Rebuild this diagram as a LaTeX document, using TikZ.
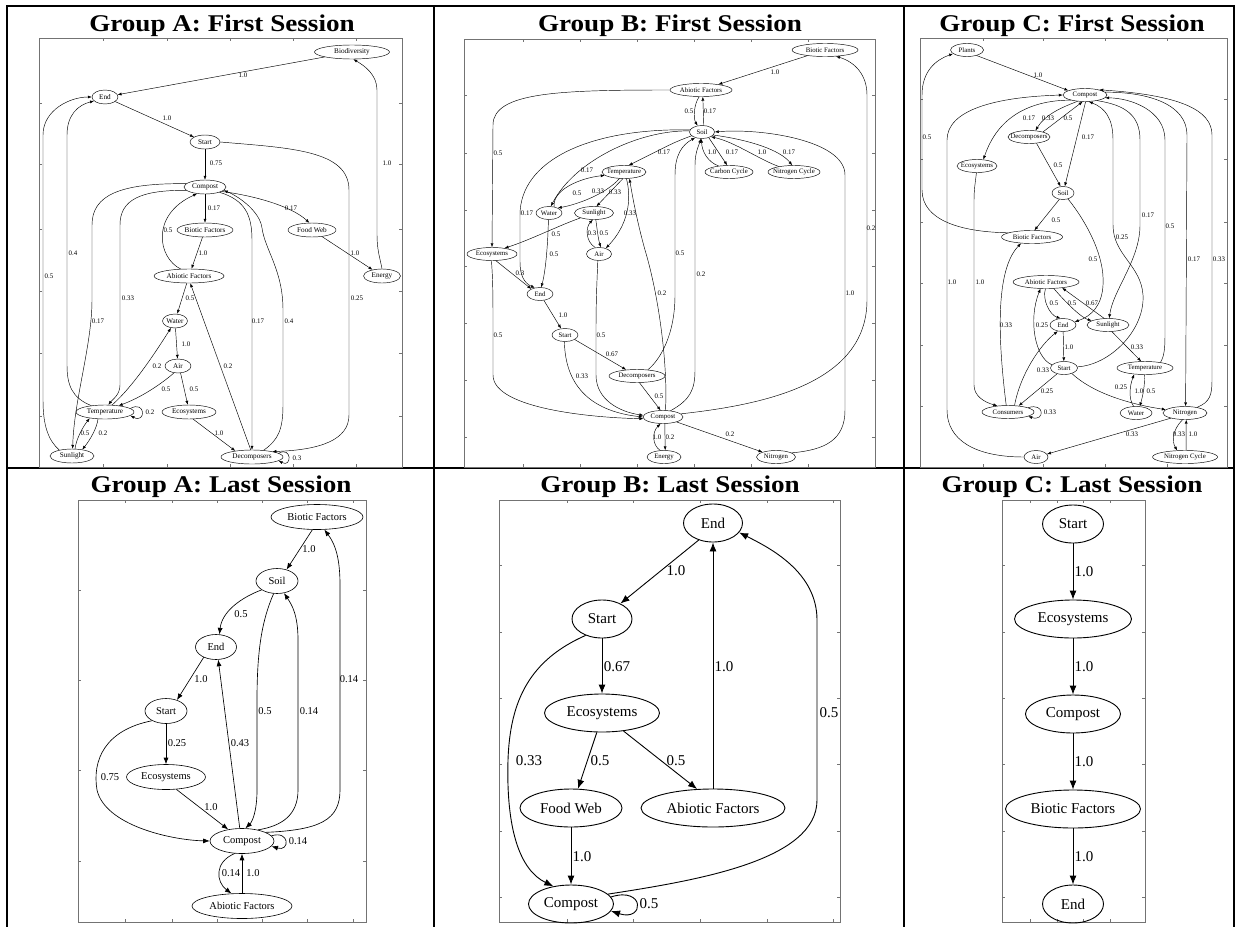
\documentclass[tikz,border=0pt]{standalone}
\usepackage{fontspec}
\setmainfont{Liberation Serif}
\usepackage{graphicx}
\usetikzlibrary{arrows.meta,shapes.geometric}
\tikzset{
  tline/.style={line width=2pt, line cap=rect},
  ttl/.style={anchor=base, inner sep=0pt, font=\fontsize{24}{28}\selectfont\bfseries},
  frm/.style={draw=black!55, line width=0.8pt},
  nA/.style={ellipse, draw, line width=0.45pt, inner xsep=-15pt, inner ysep=-6pt, minimum height=14pt, font=\fontsize{7.2}{8}\selectfont},
  nB/.style={nA, minimum height=13pt, font=\fontsize{6.8}{7.5}\selectfont},
  l1/.style={inner sep=0pt, font=\fontsize{6.9}{7.5}\selectfont},
  e1/.style={line width=0.45pt, -{Latex[length=4pt,width=3pt]}},
  n2/.style={ellipse, draw, line width=0.6pt, inner xsep=-25pt, inner ysep=-10pt, minimum height=25pt, font=\fontsize{10.5}{12}\selectfont},
  l2/.style={inner sep=0pt, font=\fontsize{10.5}{12}\selectfont},
  e2/.style={line width=0.65pt, -{Latex[length=6.5pt,width=5pt]}},
  n3/.style={ellipse, draw, line width=0.9pt, inner xsep=-35pt, inner ysep=-14pt, minimum height=38pt, font=\fontsize{15}{17}\selectfont},
  l3/.style={inner sep=0pt, font=\fontsize{15}{17}\selectfont},
  e3/.style={line width=0.9pt, -{Latex[length=9pt,width=7pt]}},
}
\newcommand\axbox[6]{%
  \draw[frm] (#1,#2) rectangle (#3,#4);
  \foreach \tk in {#5} {\draw[frm] (\tk,#2) -- ++(0,3); \draw[frm] (\tk,#4) -- ++(0,-3);}
  \foreach \tk in {#6} {\draw[frm] (#1,\tk) -- ++(3,0); \draw[frm] (#3,\tk) -- ++(-3,0);}
}
\begin{document}
\begin{tikzpicture}[x=1pt,y=-1pt]
\useasboundingbox (0,0) rectangle (1236,926);
\fill[white] (0,0) rectangle (1236,926);

% ---------- table ----------
\draw[tline] (7,6) -- (1234,6);
\draw[tline] (7,6) -- (7,926);
\draw[tline] (434,6) -- (434,926);
\draw[tline] (904,6) -- (904,926);
\draw[tline] (1234,6) -- (1234,926);
\draw[tline] (7,468) -- (1234,468);

\node[ttl] (T1) at (222,31) {\scalebox{1.13}[1]{Group A: First Session}};
\node[ttl] (T2) at (670,31) {\scalebox{1.13}[1]{Group B: First Session}};
\node[ttl] (T3) at (1072,31) {\scalebox{1.13}[1]{Group C: First Session}};
\node[ttl] (T4) at (221,492) {\scalebox{1.13}[1]{Group A: Last Session}};
\node[ttl] (T5) at (670,492) {\scalebox{1.13}[1]{Group B: Last Session}};
\node[ttl] (T6) at (1072,492) {\scalebox{1.13}[1]{Group C: Last Session}};

% ---------- frames ----------
\axbox{39}{38}{402}{467}{103,167,230,293,356}{103,164,229,291,353,416}
\axbox{464}{39}{875}{467}{523,580,637,694,751,808}{95,153,210,266,323,380,437}
\axbox{920}{38}{1227}{467}{983,1043,1105,1167}{99,159,222,283,345,406}
\axbox{78}{500}{366}{922}{125,172,217,262,307,353}{590,680,770,861}
\axbox{499}{500}{840}{922}{567,633,700,767,833}{565,632,698,764,831,897}
\axbox{1002}{500}{1145}{922}{1030,1057,1083,1110}{565,632,698,764,831,897}

% =============== Group A: First Session ===============
\node[nA, minimum width=75pt] (ABio) at (352,52) {Biodiversity};
\node[nA, minimum width=26pt] (AEnd) at (105,97) {End};
\node[nA, minimum width=30pt] (AStart) at (205,142) {Start};
\node[nA, minimum width=42pt] (ACompost) at (205,187) {Compost};
\node[nA, minimum width=56pt] (ABiotic) at (205,230) {Biotic Factors};
\node[nA, minimum width=48pt] (AFood) at (312,230) {Food Web};
\node[nA, minimum width=70pt] (AAbiotic) at (189,276) {Abiotic Factors};
\node[nA, minimum width=37pt] (AEnergy) at (382,276) {Energy};
\node[nA, minimum width=25pt] (AWater) at (175,321) {Water};
\node[nA, minimum width=26pt] (AAir) at (178,366) {Air};
\node[nA, minimum width=58pt] (ATemp) at (105,412) {Temperature};
\node[nA, minimum width=54pt] (AEco) at (189,412) {Ecosystems};
\node[nA, minimum width=44pt] (ASun) at (72,456) {Sunlight};
\node[nA, minimum width=62pt] (ADec) at (252,457) {Decomposers};

\draw[e1] (ABio) -- (AEnd);
\node[l1] (AL1) at (243,75) {1.0};
\draw[e1] (AEnd) -- (AStart);
\node[l1] (AL2) at (167,118) {1.0};
\draw[e1] (AStart) -- (ACompost);
\node[l1] (AL3) at (216,163) {0.75};
\draw[e1] (AStart.east) .. controls (290,148) and (349,150) .. (349,190) -- (349,415) .. controls (349,440) and (320,450) .. (ADec.15);
\node[l1] (AL4) at (357,298) {0.25};
\draw[e1] (AEnergy.north) .. controls (380,258) and (377,250) .. (377,235) -- (377,90) .. controls (377,75) and (365,66) .. (ABio.-80);
\node[l1] (AL5) at (387,163) {1.0};
\draw[e1] (ACompost) -- (ABiotic);
\node[l1] (AL6) at (214,208) {0.17};
\draw[e1] (ACompost.-15) .. controls (250,195) and (290,205) .. (AFood.110);
\node[l1] (AL7) at (291,208) {0.17};
\draw[e1] (AFood) -- (AEnergy);
\node[l1] (AL8) at (355,253) {1.0};
\draw[e1] (ABiotic) -- (AAbiotic);
\node[l1] (AL9) at (203,253) {1.0};
\draw[e1] (AAbiotic.140) .. controls (158,258) and (150,215) .. (ACompost.-140);
\node[l1] (AL10) at (168,230) {0.5};
\draw[e1] (AAbiotic) -- (AWater);
\node[l1] (AL11) at (190,298) {0.5};
\draw[e1] (AWater) -- (AAir);
\node[l1] (AL12) at (186,344) {1.0};
\draw[e1] (AAir.-120) .. controls (160,385) and (140,398) .. (ATemp.25);
\node[l1] (AL13) at (166,389) {0.5};
\draw[e1] (AAir.-70) -- (AEco.100);
\node[l1] (AL14) at (194,389) {0.5};
\draw[e1] (ATemp.45) .. controls (135,385) and (160,345) .. (AWater.-120);
\node[l1] (AL15) at (157,366) {0.2};
\draw[e1] (ATemp.8) .. controls (146,400) and (146,424) .. (ATemp.-8);
\node[l1] (AL16) at (150,412) {0.2};
\draw[e1] (ATemp.-135) .. controls (97,428) and (90,440) .. (ASun.32);
\draw[e1] (ASun.67) .. controls (76,440) and (82,428) .. (ATemp.-158);
\node[l1] (AL17) at (85,433) {0.5};
\node[l1] (AL18) at (103,433) {0.2};
\draw[e1] (AEco.-60) -- (ADec.160);
\node[l1] (AL19) at (219,433) {1.0};
\draw[e1] (ADec.100) -- (AAbiotic.-80);
\node[l1] (AL20) at (228,366) {0.2};
\draw[e1] (ADec.8) .. controls (292,446) and (292,468) .. (ADec.-8);
\node[l1] (AL21) at (297,458) {0.3};
\draw[e1] (ACompost.-20) .. controls (245,200) and (252,215) .. (252,240) -- (ADec.north);
\node[l1] (AL22) at (258,321) {0.17};
\draw[e1] (ADec.30) .. controls (278,440) and (283,430) .. (283,405) -- (283,310) .. controls (283,270) and (265,250) .. (262,228) .. controls (260,212) and (240,197) .. (ACompost.-10);
\node[l1] (AL23) at (289,321) {0.4};
\draw[e1] (ACompost.-170) .. controls (140,190) and (120,200) .. (120,225) -- (120,385) .. controls (120,395) and (112,400) .. (ATemp.65);
\node[l1] (AL24) at (128,298) {0.33};
\draw[e1] (ACompost.170) .. controls (120,183) and (92,195) .. (92,225) -- (92,300) .. controls (92,345) and (74,400) .. (ASun.85);
\node[l1] (AL25) at (98,321) {0.17};
\draw[e1] (ATemp.155) .. controls (72,398) and (67,385) .. (67,365) -- (67,135) .. controls (67,115) and (78,105) .. (AEnd.-160);
\node[l1] (AL26) at (73,253) {0.4};
\draw[e1] (ASun.155) .. controls (48,440) and (43,425) .. (43,400) -- (43,135) .. controls (43,110) and (70,97) .. (AEnd.west);
\node[l1] (AL27) at (49,276) {0.5};

% =============== Group B: First Session ===============
\node[nB, minimum width=66pt] (BBio) at (825,50) {Biotic Factors};
\node[nB, minimum width=62pt] (BAbi) at (701,90) {Abiotic Factors};
\node[nB, minimum width=25pt] (BSoil) at (702,132) {Soil};
\node[nB, minimum width=48pt] (BCarb) at (729,172) {Carbon Cycle};
\node[nB, minimum width=52pt] (BNCyc) at (794,172) {Nitrogen Cycle};
\node[nB, minimum width=44pt] (BTemp) at (624,172) {Temperature};
\node[nB, minimum width=26pt] (BWater) at (549,213) {Water};
\node[nB, minimum width=39pt] (BSun) at (594,213) {Sunlight};
\node[nB, minimum width=50pt] (BEco) at (492,254) {Ecosystems};
\node[nB, minimum width=25pt] (BAir) at (599,254) {Air};
\node[nB, minimum width=26pt] (BEnd) at (540,294) {End};
\node[nB, minimum width=26pt] (BStart) at (565,335) {Start};
\node[nB, minimum width=56pt] (BDec) at (637,376) {Decomposers};
\node[nB, minimum width=40pt] (BComp) at (663,417) {Compost};
\node[nB, minimum width=34pt] (BEnergy) at (664,457) {Energy};
\node[nB, minimum width=39pt] (BNit) at (776,457) {Nitrogen};

\draw[e1] (BBio) -- (BAbi);
\node[l1] (BL1) at (775,72) {1.0};
\draw[e1] (BAbi.-105) .. controls (694,104) and (693,118) .. (BSoil.125);
\node[l1] (BL2) at (689,111) {0.5};
\draw[e1] (BSoil.75) -- (BAbi.-75);
\node[l1] (BL3) at (710,111) {0.17};
\draw[e1] (BAbi.west) .. controls (560,90) and (493,92) .. (493,125) -- (BEco.north);
\node[l1] (BL4) at (498,153) {0.5};
\draw[e1] (BSoil.-40) -- (BCarb.105);
\node[l1] (BL5) at (732,152) {0.17};
\draw[e1] (BCarb.150) .. controls (708,162) and (702,152) .. (BSoil.-95);
\node[l1] (BL6) at (712,152) {1.0};
\draw[e1] (BSoil.-15) .. controls (750,140) and (780,150) .. (BNCyc.105);
\node[l1] (BL7) at (789,152) {0.17};
\draw[e1] (BNCyc.160) .. controls (760,160) and (735,142) .. (BSoil.-28);
\node[l1] (BL8) at (762,152) {1.0};
\draw[e1] (BSoil.-160) .. controls (675,142) .. (BTemp.55);
\node[l1] (BL9) at (664,152) {0.17};
\draw[e1] (BSoil.175) .. controls (640,130) and (575,160) .. (BWater.75);
\node[l1] (BL10) at (587,170) {0.17};
\draw[e1] (BSoil.170) .. controls (590,128) and (520,160) .. (520,215) -- (520,262) .. controls (520,275) and (524,283) .. (BEnd.130);
\node[l1] (BL11) at (527,213) {0.17};
\draw[e1] (BWater.50) .. controls (552,190) and (580,178) .. (BTemp.-170);
\node[l1] (BL12) at (577,193) {0.5};
\draw[e1] (BTemp.-125) .. controls (605,195) and (575,205) .. (BWater.30);
\node[l1] (BL13) at (598,191) {0.33};
\draw[e1] (BTemp.-100) -- (BSun.70);
\node[l1] (BL14) at (615,192) {0.33};
\draw[e1] (BTemp.-70) .. controls (632,200) and (628,225) .. (BAir.40);
\node[l1] (BL15) at (630,213) {0.33};
\draw[e1] (BSun.-160) .. controls (560,225) and (530,240) .. (BEco.25);
\node[l1] (BL16) at (556,234) {0.5};
\draw[e1] (BWater.-95) .. controls (548,240) and (546,270) .. (BEnd.80);
\node[l1] (BL17) at (554,254) {0.5};
\draw[e1] (BAir.120) .. controls (586,242) and (585,228) .. (BSun.-100);
\node[l1] (BL18) at (592,233) {0.3};
\draw[e1] (BSun.-75) .. controls (597,228) and (598,238) .. (BAir.75);
\node[l1] (BL19) at (604,233) {0.5};
\draw[e1] (BAir.-100) .. controls (597,280) and (596,300) .. (596,330) -- (596,375) .. controls (596,400) and (620,412) .. (BComp.175);
\node[l1] (BL20) at (601,335) {0.5};
\draw[e1] (BEco.-60) -- (BEnd.150);
\node[l1] (BL21) at (520,273) {0.3};
\draw[e1] (BEco.-95) .. controls (493,280) and (493,300) .. (493,330) -- (493,375) .. controls (493,410) and (600,418) .. (BComp.-175);
\node[l1] (BL22) at (498,335) {0.5};
\draw[e1] (BEnd) -- (BStart);
\node[l1] (BL23) at (563,315) {1.0};
\draw[e1] (BStart.-25) -- (BDec.150);
\node[l1] (BL24) at (612,354) {0.67};
\draw[e1] (BStart.-95) .. controls (565,375) and (580,410) .. (BComp.180);
\node[l1] (BL25) at (582,376) {0.33};
\draw[e1] (BDec.-70) -- (BComp.110);
\node[l1] (BL26) at (659,396) {0.5};
\draw[e1] (BDec.30) .. controls (660,360) and (675,335) .. (675,295) -- (675,175) .. controls (675,155) and (682,145) .. (BSoil.-140);
\node[l1] (BL27) at (680,253) {0.5};
\draw[e1] (BComp.40) .. controls (690,400) and (695,390) .. (695,370) -- (695,165) .. controls (695,152) and (699,145) .. (BSoil.-100);
\node[l1] (BL28) at (701,274) {0.2};
\draw[e1] (BComp.70) .. controls (668,370) and (660,300) .. (645,250) .. controls (638,225) and (633,200) .. (BTemp.-50);
\node[l1] (BL29) at (662,293) {0.2};
\draw[e1] (BEnergy.120) .. controls (652,445) and (652,432) .. (BComp.-110);
\node[l1] (BL30) at (657,437) {1.0};
\draw[e1] (BComp.-75) -- (BEnergy.80);
\node[l1] (BL31) at (670,437) {0.2};
\draw[e1] (BComp.-20) -- (BNit.160);
\node[l1] (BL32) at (730,434) {0.2};
\draw[e1] (BComp.10) .. controls (760,405) and (867,385) .. (867,300) -- (867,95) .. controls (867,75) and (855,62) .. (BBio.-30);
\node[l1] (BL33) at (871,228) {0.2};
\draw[e1] (BNit.15) .. controls (825,450) and (845,440) .. (845,410) -- (845,175) .. controls (845,140) and (760,128) .. (BSoil.east);
\node[l1] (BL34) at (850,293) {1.0};

% =============== Group C: First Session ===============
\node[nB, minimum width=33pt] (CPlants) at (967,50) {Plants};
\node[nB, minimum width=44pt] (CComp) at (1085,95) {Compost};
\node[nB, minimum width=42pt] (CDec) at (1029,137) {Decomposers};
\node[nB, minimum width=40pt] (CEco) at (977,166) {Ecosystems};
\node[nB, minimum width=22pt] (CSoil) at (1063,193) {Soil};
\node[nB, minimum width=61pt] (CBio) at (1032,237) {Biotic Factors};
\node[nB, minimum width=66pt] (CAbi) at (1046,282) {Abiotic Factors};
\node[nB, minimum width=26pt] (CEnd) at (1063,325) {End};
\node[nB, minimum width=42pt] (CSun) at (1108,325) {Sunlight};
\node[nB, minimum width=27pt] (CStart) at (1064,368) {Start};
\node[nB, minimum width=56pt] (CTemp) at (1145,368) {Temperature};
\node[nB, minimum width=52pt] (CCons) at (1008,412) {Consumers};
\node[nB, minimum width=32pt] (CWater) at (1136,413) {Water};
\node[nB, minimum width=44pt] (CNit) at (1185,413) {Nitrogen};
\node[nB, minimum width=24pt] (CAir) at (1036,457) {Air};
\node[nB, minimum width=65pt] (CNCyc) at (1185,457) {Nitrogen Cycle};

\draw[e1] (CPlants.-30) -- (CComp.165);
\node[l1] (CL1) at (1038,75) {1.0};
\draw[e1] (CBio.170) .. controls (960,232) and (922,220) .. (922,190) -- (922,95) .. controls (922,72) and (935,60) .. (CPlants.-165);
\node[l1] (CL2) at (927,137) {0.5};
\draw[e1] (CComp.-160) .. controls (1040,100) and (1000,110) .. (CEco.45);
\node[l1] (CL3) at (1029,118) {0.17};
\draw[e1] (CComp.-140) .. controls (1060,108) and (1045,115) .. (CDec.45);
\node[l1] (CL4) at (1048,118) {0.33};
\draw[e1] (CDec.20) -- (CComp.-110);
\node[l1] (CL5) at (1068,118) {0.5};
\draw[e1] (CComp.-85) -- (CSoil.75);
\node[l1] (CL6) at (1088,137) {0.17};
\draw[e1] (CDec.-40) -- (CSoil.110);
\node[l1] (CL7) at (1058,165) {0.5};
\draw[e1] (CSoil.-120) -- (CBio.70);
\node[l1] (CL8) at (1056,220) {0.5};
\draw[e1] (CSoil.-50) .. controls (1085,220) and (1105,255) .. (1103,285) .. controls (1102,305) and (1092,316) .. (CEnd.15);
\node[l1] (CL9) at (1093,259) {0.5};
\draw[e1] (CComp.-25) .. controls (1125,105) and (1140,115) .. (1140,140) -- (1140,225) .. controls (1140,260) and (1113,290) .. (CSun.80);
\node[l1] (CL10) at (1148,215) {0.17};
\draw[e1] (CStart.5) .. controls (1110,365) and (1145,330) .. (1143,295) .. controls (1141,265) and (1113,255) .. (1113,225) -- (1113,140) .. controls (1113,118) and (1105,108) .. (CComp.-60);
\node[l1] (CL11) at (1122,237) {0.25};
\draw[e1] (CTemp.20) .. controls (1165,355) and (1165,345) .. (1165,330) -- (1165,140) .. controls (1165,110) and (1130,98) .. (CComp.-8);
\node[l1] (CL12) at (1170,226) {0.5};
\draw[e1] (CComp.8) .. controls (1150,92) and (1187,105) .. (1187,135) -- (CNit.85);
\node[l1] (CL13) at (1194,259) {0.17};
\draw[e1] (CNit.25) .. controls (1210,402) and (1212,395) .. (1212,380) -- (1212,135) .. controls (1212,110) and (1180,95) .. (CComp.20);
\node[l1] (CL14) at (1219,259) {0.33};
\draw[e1] (CAir.west) .. controls (975,457) and (947,440) .. (947,410) -- (947,140) .. controls (947,110) and (995,97) .. (CComp.180);
\node[l1] (CL15) at (952,282) {1.0};
\draw[e1] (CEco.-95) .. controls (975,185) and (974,190) .. (974,200) -- (974,385) .. controls (974,396) and (984,402) .. (CCons.150);
\node[l1] (CL16) at (980,282) {1.0};
\draw[e1] (CCons.105) .. controls (998,340) and (995,270) .. (CBio.-150);
\node[l1] (CL17) at (1006,325) {0.33};
\draw[e1] (CStart.165) .. controls (1035,358) and (1028,320) .. (CAbi.-130);
\node[l1] (CL18) at (1042,325) {0.25};
\draw[e1] (CAbi.-95) .. controls (1042,300) and (1050,315) .. (CEnd.110);
\node[l1] (CL19) at (1054,303) {0.5};
\draw[e1] (CAbi.-40) .. controls (1068,305) and (1082,318) .. (CSun.165);
\node[l1] (CL20) at (1072,303) {0.5};
\draw[e1] (CSun.120) -- (CAbi.-20);
\node[l1] (CL21) at (1092,303) {0.67};
\draw[e1] (CEnd) -- (CStart);
\node[l1] (CL22) at (1069,347) {1.0};
\draw[e1] (CCons.45) .. controls (1020,375) and (1040,345) .. (CEnd.-130);
\node[l1] (CL23) at (1043,370) {0.33};
\draw[e1] (CStart.-140) -- (CCons.30);
\node[l1] (CL24) at (1047,391) {0.25};
\draw[e1] (CStart.-35) .. controls (1095,395) and (1135,405) .. (CNit.170);
\node[l1] (CL25) at (1121,387) {0.25};
\draw[e1] (CSun.-60) -- (CTemp.120);
\node[l1] (CL26) at (1137,347) {0.33};
\draw[e1] (CWater.110) .. controls (1128,398) and (1130,385) .. (CTemp.-150);
\node[l1] (CL27) at (1139,391) {1.0};
\draw[e1] (CTemp.-95) .. controls (1145,385) and (1143,395) .. (CWater.60);
\node[l1] (CL28) at (1151,391) {0.5};
\draw[e1] (CNit.-160) -- (CAir.15);
\node[l1] (CL29) at (1132,434) {0.33};
\draw[e1] (CNit.-110) .. controls (1172,430) and (1172,442) .. (CNCyc.140);
\node[l1] (CL30) at (1179,434) {0.33};
\draw[e1] (CNCyc.80) -- (CNit.-80);
\node[l1] (CL31) at (1193,434) {1.0};
\draw[e1] (CCons.12) .. controls (1045,402) and (1045,422) .. (CCons.-12);
\node[l1] (CL32) at (1050,412) {0.33};

% =============== Group A: Last Session ===============
\node[n2, minimum width=92pt] (DBio) at (317,517) {Biotic Factors};
\node[n2, minimum width=42pt] (DSoil) at (277,581) {Soil};
\node[n2, minimum width=41pt] (DEnd) at (216,647) {End};
\node[n2, minimum width=42pt] (DStart) at (166,711) {Start};
\node[n2, minimum width=79pt] (DEco) at (166,777) {Ecosystems};
\node[n2, minimum width=64pt] (DComp) at (242,841) {Compost};
\node[n2, minimum width=100pt] (DAbi) at (242,906) {Abiotic Factors};

\draw[e2] (DBio.-110) -- (DSoil.50);
\node[l2] (DL1) at (309,549) {1.0};
\draw[e2] (DSoil.-150) .. controls (240,598) and (222,612) .. (DEnd.75);
\node[l2] (DL2) at (241,614) {0.5};
\draw[e2] (DSoil.-105) .. controls (262,620) and (257,650) .. (257,700) -- (257,790) .. controls (257,812) and (252,822) .. (DComp.75);
\node[l2] (DL3) at (265,711) {0.5};
\draw[e2] (DComp.35) .. controls (282,826) and (298,815) .. (298,790) -- (298,640) .. controls (298,615) and (292,605) .. (DSoil.-60);
\node[l2] (DL4) at (309,711) {0.14};
\draw[e2] (DComp.20) .. controls (320,830) and (340,820) .. (340,790) -- (340,585) .. controls (340,560) and (336,545) .. (DBio.-60);
\node[l2] (DL5) at (349,679) {0.14};
\draw[e2] (DEnd.-140) -- (DStart.45);
\node[l2] (DL6) at (201,679) {1.0};
\draw[e2] (DComp.100) -- (DEnd.-80);
\node[l2] (DL7) at (240,743) {0.43};
\draw[e2] (DStart) -- (DEco);
\node[l2] (DL8) at (177,743) {0.25};
\draw[e2] (DStart.-145) .. controls (105,730) and (92,760) .. (97,790) .. controls (105,825) and (170,840) .. (DComp.180);
\node[l2] (DL9) at (110,777) {0.75};
\draw[e2] (DEco.-50) -- (DComp.140);
\node[l2] (DL10) at (211,807) {1.0};
\draw[e2] (DComp.10) .. controls (290,830) and (290,852) .. (DComp.-10);
\node[l2] (DL11) at (298,841) {0.14};
\draw[e2] (DComp.-120) .. controls (214,862) and (216,882) .. (DAbi.130);
\node[l2] (DL12) at (231,873) {0.14};
\draw[e2] (DAbi.north) -- (DComp.south);
\node[l2] (DL13) at (253,873) {1.0};

% =============== Group B: Last Session ===============
\node[n3, minimum width=59pt] (EEnd) at (713,523) {End};
\node[n3, minimum width=60pt] (EStart) at (602,619) {Start};
\node[n3, minimum width=115pt] (EEco) at (602,713) {Ecosystems};
\node[n3, minimum width=102pt] (EFood) at (571,808) {Food Web};
\node[n3, minimum width=144pt] (EAbi) at (713,808) {Abiotic Factors};
\node[n3, minimum width=85pt] (EComp) at (571,904) {Compost};

\draw[e3] (EEnd.-130) -- (EStart.40);
\node[l3] (EL1) at (676,571) {1.0};
\draw[e3] (EStart) -- (EEco);
\node[l3] (EL2) at (617,667) {0.67};
\draw[e3] (EStart.-135) .. controls (530,660) and (510,700) .. (508,760) .. controls (506,830) and (520,870) .. (EComp.135);
\node[l3] (EL3) at (529,761) {0.33};
\draw[e3] (EEco.-105) -- (EFood.70);
\node[l3] (EL4) at (600,761) {0.5};
\draw[e3] (EEco.-40) -- (EAbi.130);
\node[l3] (EL5) at (676,761) {0.5};
\draw[e3] (EAbi) -- (EEnd);
\node[l3] (EL6) at (724,667) {1.0};
\draw[e3] (EFood) -- (EComp);
\node[l3] (EL7) at (582,857) {1.0};
\draw[e3] (EComp.15) .. controls (700,880) and (817,860) .. (817,800) -- (817,620) .. controls (817,572) and (770,548) .. (EEnd.-20);
\node[l3] (EL8) at (829,713) {0.5};
\draw[e3] (EComp.10) .. controls (645,886) and (645,922) .. (EComp.-10);
\node[l3] (EL9) at (649,904) {0.5};

% =============== Group C: Last Session ===============
\node[n3, minimum width=61pt] (FStart) at (1073,524) {Start};
\node[n3, minimum width=117pt] (FEco) at (1073,619) {Ecosystems};
\node[n3, minimum width=95pt] (FComp) at (1073,714) {Compost};
\node[n3, minimum width=135pt] (FBio) at (1073,809) {Biotic Factors};
\node[n3, minimum width=61pt] (FEnd) at (1073,904) {End};

\draw[e3] (FStart) -- (FEco);
\node[l3] (FL1) at (1084,572) {1.0};
\draw[e3] (FEco) -- (FComp);
\node[l3] (FL2) at (1084,667) {1.0};
\draw[e3] (FComp) -- (FBio);
\node[l3] (FL3) at (1084,762) {1.0};
\draw[e3] (FBio) -- (FEnd);
\node[l3] (FL4) at (1084,857) {1.0};
\end{tikzpicture}
\end{document}
